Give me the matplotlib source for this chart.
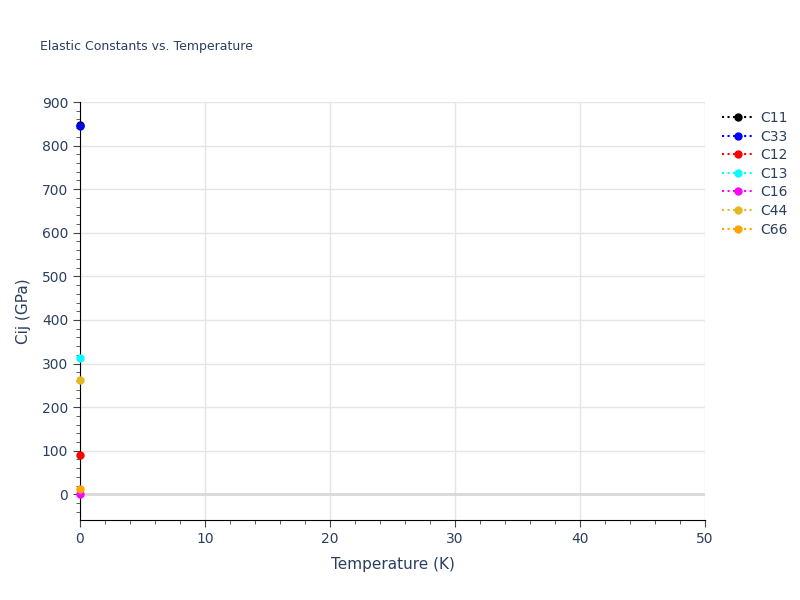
import matplotlib.pyplot as plt
from matplotlib.ticker import MultipleLocator

temps = [0.0]
names = ['C11', 'C33', 'C12', 'C13', 'C16', 'C44', 'C66']
colors = ['black', 'blue', 'red', 'cyan', 'magenta', '#e5b820', 'orange']
values = {
    'C11': [848.0],
    'C33': [845.0],
    'C12': [90.0],
    'C13': [313.0],
    'C16': [0.5],
    'C44': [263.0],
    'C66': [12.0],
}

txt = '#2a3f5f'
fig = plt.figure(figsize=(8, 6), dpi=100)
fig.set_facecolor('w')
ax = fig.add_axes([0.1, 0.1333, 0.78125, 0.6967])

for name, c in zip(names, colors):
    ax.plot(temps, values[name], ls=':', marker='o', ms=5, color=c, lw=1.5,
            label=name, clip_on=False, zorder=5)

ax.set_xlim(0, 50)
ax.set_ylim(-59, 900)
ax.xaxis.set_major_locator(MultipleLocator(10))
ax.xaxis.set_minor_locator(MultipleLocator(2))
ax.yaxis.set_major_locator(MultipleLocator(100))
ax.yaxis.set_minor_locator(MultipleLocator(20))
ax.grid(True, which='major', color='#e5e5e5', lw=1)
ax.axhline(0, color='#d9d9d9', lw=2, zorder=1)
ax.set_axisbelow(True)
for s in ['top', 'right']:
    ax.spines[s].set_visible(False)
for s in ['left', 'bottom']:
    ax.spines[s].set_color('black')
ax.tick_params(which='major', direction='out', length=5, color='#444444',
               labelcolor=txt, labelsize=10)
ax.tick_params(which='minor', direction='out', length=3, color='#444444')
ax.set_xlabel('Temperature (K)', color=txt, fontsize=11, labelpad=8)
ax.set_ylabel('Cij (GPa)', color=txt, fontsize=11, labelpad=8)
fig.text(0.05, 0.917, 'Elastic Constants vs. Temperature', color=txt, fontsize=9)

leg = ax.legend(loc='upper left', bbox_to_anchor=(1.01, 1.005), frameon=False,
                fontsize=10, handlelength=2.2, handletextpad=0.5,
                labelspacing=0.33, borderpad=0.3)
for t in leg.get_texts():
    t.set_color(txt)

fig.savefig('out.png', dpi=100)
